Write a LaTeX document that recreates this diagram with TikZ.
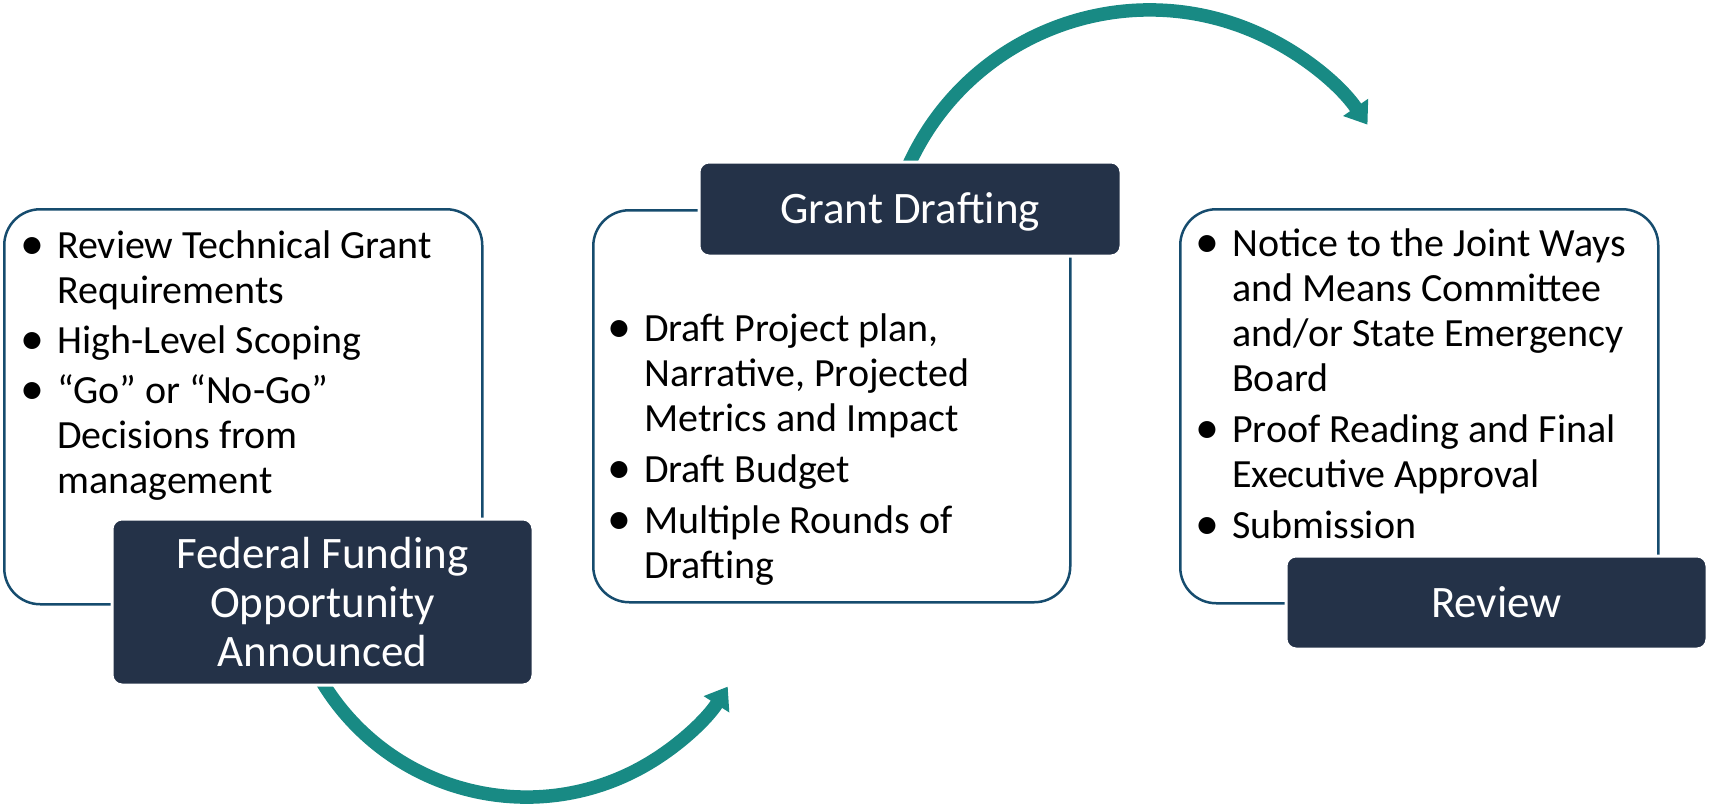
\documentclass[tikz,border=0pt]{standalone}
\usepackage{fontspec}
\setmainfont{Carlito}
\usetikzlibrary{arrows.meta}
\definecolor{paneledge}{HTML}{164C6E}
\definecolor{navybox}{HTML}{243248}
\definecolor{flowteal}{HTML}{188A84}
\newcommand{\bigbul}{\raisebox{-1.5pt}{\scalebox{1.2}{\textbullet}}}
\begin{document}
\begin{tikzpicture}[x=1pt,y=-1pt,
  panel/.style={draw=paneledge, line width=2.5pt, fill=white, rounded corners=36pt, inner sep=0pt},
  titlebox/.style={fill=navybox, draw=white, line width=3pt, rounded corners=10pt, text=white,
    font=\fontsize{45}{49}\selectfont, align=center, inner sep=0pt},
  flow/.style={draw=flowteal, line width=13.5pt, -{Triangle[length=21pt,width=29pt]}},
  body/.style={anchor=base west, inner sep=0pt, font=\fontsize{40}{45}\selectfont, align=left}]
\useasboundingbox (0,0) rectangle (1709,811);

% panels
\node[panel, minimum width=478pt, minimum height=395pt, anchor=north west] (boxL) at (3,208) {};
\node[panel, minimum width=477pt, minimum height=392pt, anchor=north west] (boxM) at (592,209) {};
\node[panel, minimum width=478pt, minimum height=394pt, anchor=north west] (boxR) at (1179,208) {};

% arcs
\coordinate (a1s) at (319.7,677.7);
\draw[flow] (a1s) arc[start angle=150, end angle=32.5, radius=238.7];
\coordinate (a2s) at (907.9,166.9);
\draw[flow] (a2s) arc[start angle=-156, end angle=-34.5, radius=264.5];

% title boxes
\node[titlebox, minimum width=421pt, minimum height=166pt] (titleL) at (322.5,602) {Federal Funding\\Opportunity\\Announced};
\node[titlebox, minimum width=422pt, minimum height=94pt] (titleM) at (910,209) {\raisebox{-14pt}[0pt][0pt]{Grant Drafting}};
\node[titlebox, minimum width=421pt, minimum height=93pt] (titleR) at (1496.5,602.5) {Review};

% body text
\node[body] (txtL) at (20,258) {\begin{tabular}[t]{@{}p{37pt}@{}l@{}}
\bigbul & Review Technical Grant\\
 & Requirements\\[5pt]
\bigbul & High-Level Scoping\\[5pt]
\bigbul & “Go” or “No-Go”\\
 & Decisions from\\
 & management
\end{tabular}};

\node[body] (txtM) at (607,341) {\begin{tabular}[t]{@{}p{37pt}@{}l@{}}
\bigbul & Draft Project plan,\\
 & Narrative, Projected\\
 & Metrics and Impact\\[6pt]
\bigbul & Draft Budget\\[6pt]
\bigbul & Multiple Rounds of\\
 & Drafting
\end{tabular}};

\node[body] (txtR) at (1195,256) {\begin{tabular}[t]{@{}p{37pt}@{}l@{}}
\bigbul & Notice to the Joint Ways\\
 & and Means Committee\\
 & and/or State Emergency\\
 & Board\\[6pt]
\bigbul & Proof Reading and Final\\
 & Executive Approval\\[6pt]
\bigbul & Submission
\end{tabular}};
\end{tikzpicture}
\end{document}
